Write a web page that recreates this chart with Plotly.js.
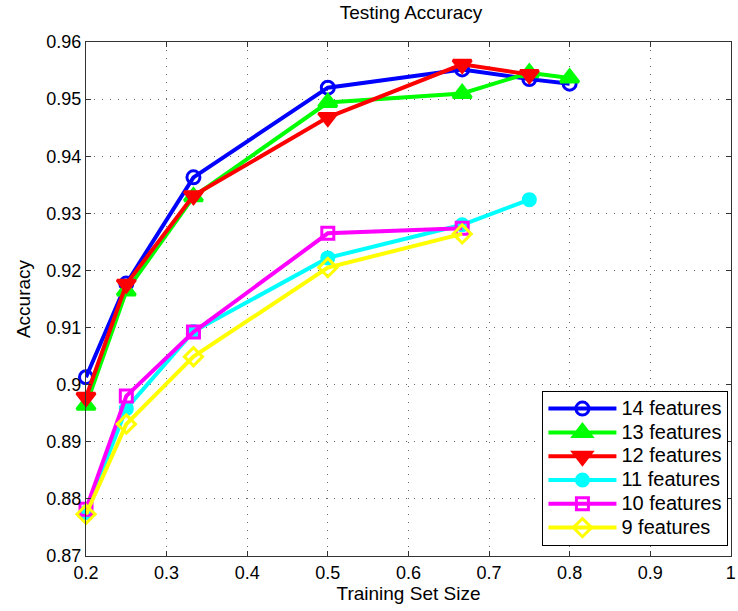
<!DOCTYPE html>
<html><head><meta charset="utf-8">
<script src="https://cdn.plot.ly/plotly-3.0.1.min.js"></script>
<style>html,body{margin:0;padding:0;background:#fff}#c{width:738px;height:611px}</style>
</head><body><div id="c"></div>
<script>
const names = ["14 features","13 features","12 features","11 features","10 features","9 features"];
const colors = ["#0000ff","#00ff00","#ff0000","#00ffff","#ff00ff","#ffff00"];
const symbols = ["circle-open","triangle-up","triangle-down","circle","square-open","diamond-open"];
const x7 = [0.2, 0.25, 0.3333, 0.5, 0.6667, 0.75, 0.8];
const x6 = [0.2, 0.25, 0.3333, 0.5, 0.6667, 0.75];
const x5 = [0.2, 0.25, 0.3333, 0.5, 0.6667];
const f14 = [0.9013, 0.9177, 0.9363, 0.9520, 0.9552, 0.9535, 0.9527];
const f13 = [0.8964, 0.9164, 0.9329, 0.9494, 0.9510, 0.9546, 0.9537];
const f12 = [0.8978, 0.9176, 0.9331, 0.9468, 0.9561, 0.9543];
const f11 = [0.8776, 0.8958, 0.9093, 0.9222, 0.9280, 0.9324];
const f10 = [0.8782, 0.8980, 0.9092, 0.9265, 0.9274];
const f9  = [0.8773, 0.8931, 0.9049, 0.9205, 0.9264];
const xs = [x7, x7, x6, x6, x5, x5];
const ys = [f14, f13, f12, f11, f10, f9];
const xTicks = [0.2,0.3,0.4,0.5,0.6,0.7,0.8,0.9,1];
const xTickText = ["0.2","0.3","0.4","0.5","0.6","0.7","0.8","0.9","1"];
const yTicks = [0.87,0.88,0.89,0.9,0.91,0.92,0.93,0.94,0.95,0.96];
const yTickText = ["0.87","0.88","0.89","0.9","0.91","0.92","0.93","0.94","0.95","0.96"];

const sizes = [13,16,16,12,12,14];
const traces = names.map((n,i)=>({
  x: xs[i], y: ys[i], name: '<span style="font-size:20px">' + n + '</span>', type:'scatter', mode:'lines+markers',
  line:{color:colors[i], width:4},
  marker:{symbol:symbols[i], color:colors[i], size:sizes[i], line:{color:colors[i], width:3}},
  cliponaxis:false
}));

const font = {family:'"Liberation Sans", Arial, sans-serif', color:'#000'};
const axisCommon = {
  showline:true, linecolor:'#333', linewidth:1, mirror:'ticks',
  ticks:'inside', ticklen:5, tickcolor:'#333',
  showgrid:true, gridcolor:'#666', griddash:'1px,7px', gridwidth:1,
  zeroline:false, tickfont:Object.assign({size:18},font), ticklabeloverflow:'allow'
};
const layout = {
  width:738, height:611,
  margin:{l:86, r:7, t:42, b:55},
  paper_bgcolor:'#fff', plot_bgcolor:'#fff',
  font: font,
  showlegend:true,
  title:{text:'Testing Accuracy', font:Object.assign({size:19},font), x:0.557, xanchor:'center', y:0.99, yanchor:'top'},
  xaxis:Object.assign({}, axisCommon, {range:[0.2,1.0002], tickvals:xTicks, ticktext:xTickText,
    title:{text:'Training Set Size', font:Object.assign({size:19},font), standoff:5}}),
  yaxis:Object.assign({}, axisCommon, {range:[0.87,0.96], tickvals:yTicks, ticktext:yTickText,
    title:{text:'Accuracy', font:Object.assign({size:19},font), standoff:10}}),
  legend:{x:0.996, xanchor:'right', y:0.02, yanchor:'bottom', bgcolor:'#fff',
    bordercolor:'#000', borderwidth:1, font:Object.assign({size:16},font),
    itemwidth:68, tracegroupgap:0}
};
Plotly.newPlot('c', traces, layout, {displayModeBar:false});
</script></body></html>
